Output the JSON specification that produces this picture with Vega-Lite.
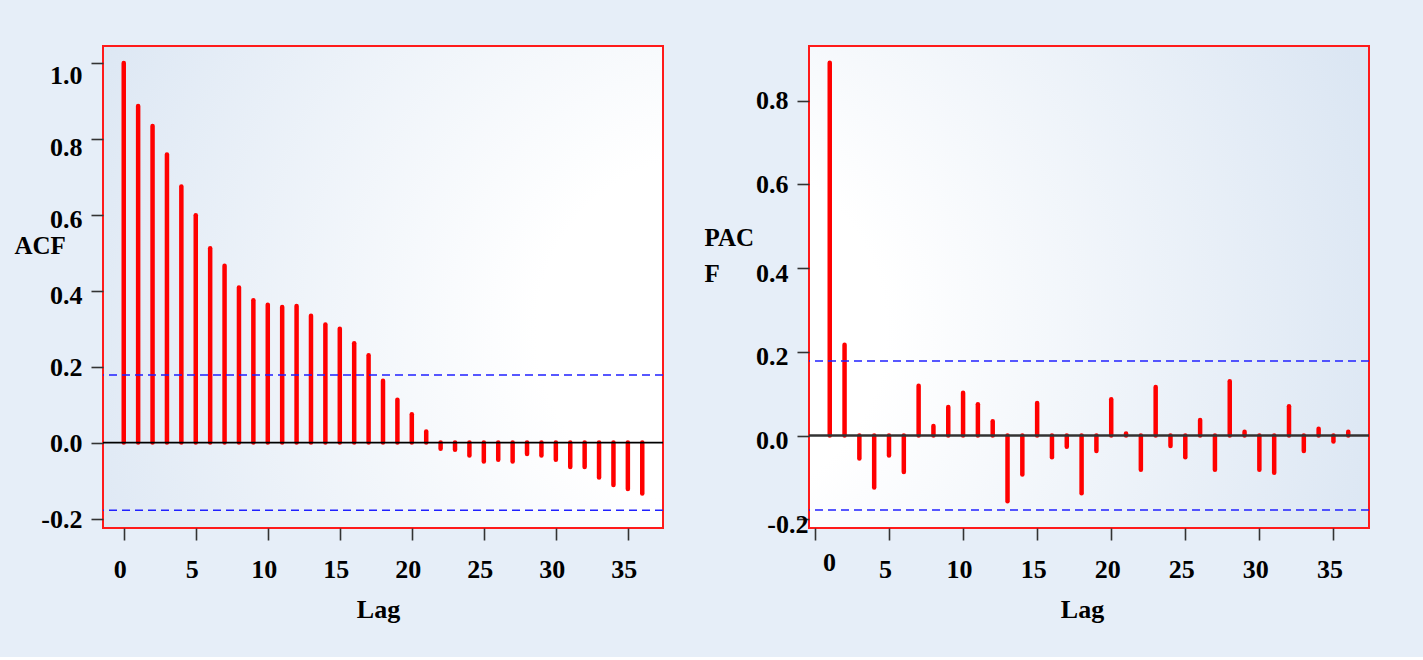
{
  "$schema": "https://vega.github.io/schema/vega-lite/v6.json",
  "background": "#e6eef8",
  "padding": {"left": 13, "top": 45, "right": 58, "bottom": 34},
  "datasets": {
    "acf": [
      {"lag": 0, "acf": 1.0}, {"lag": 1, "acf": 0.887}, {"lag": 2, "acf": 0.834}, {"lag": 3, "acf": 0.759},
      {"lag": 4, "acf": 0.675}, {"lag": 5, "acf": 0.599}, {"lag": 6, "acf": 0.512}, {"lag": 7, "acf": 0.466},
      {"lag": 8, "acf": 0.409}, {"lag": 9, "acf": 0.375}, {"lag": 10, "acf": 0.363}, {"lag": 11, "acf": 0.357},
      {"lag": 12, "acf": 0.36}, {"lag": 13, "acf": 0.334}, {"lag": 14, "acf": 0.311}, {"lag": 15, "acf": 0.3},
      {"lag": 16, "acf": 0.262}, {"lag": 17, "acf": 0.23}, {"lag": 18, "acf": 0.163}, {"lag": 19, "acf": 0.113},
      {"lag": 20, "acf": 0.075}, {"lag": 21, "acf": 0.029}, {"lag": 22, "acf": -0.016}, {"lag": 23, "acf": -0.019},
      {"lag": 24, "acf": -0.034}, {"lag": 25, "acf": -0.05}, {"lag": 26, "acf": -0.045}, {"lag": 27, "acf": -0.05},
      {"lag": 28, "acf": -0.03}, {"lag": 29, "acf": -0.034}, {"lag": 30, "acf": -0.045}, {"lag": 31, "acf": -0.064},
      {"lag": 32, "acf": -0.064}, {"lag": 33, "acf": -0.092}, {"lag": 34, "acf": -0.112}, {"lag": 35, "acf": -0.122},
      {"lag": 36, "acf": -0.134}
    ],
    "pacf": [
      {"lag": 1, "pacf": 0.891}, {"lag": 2, "pacf": 0.217}, {"lag": 3, "pacf": -0.055}, {"lag": 4, "pacf": -0.124},
      {"lag": 5, "pacf": -0.048}, {"lag": 6, "pacf": -0.087}, {"lag": 7, "pacf": 0.119}, {"lag": 8, "pacf": 0.023},
      {"lag": 9, "pacf": 0.068}, {"lag": 10, "pacf": 0.102}, {"lag": 11, "pacf": 0.075}, {"lag": 12, "pacf": 0.034},
      {"lag": 13, "pacf": -0.157}, {"lag": 14, "pacf": -0.093}, {"lag": 15, "pacf": 0.078}, {"lag": 16, "pacf": -0.052},
      {"lag": 17, "pacf": -0.027}, {"lag": 18, "pacf": -0.138}, {"lag": 19, "pacf": -0.037}, {"lag": 20, "pacf": 0.087},
      {"lag": 21, "pacf": 0.005}, {"lag": 22, "pacf": -0.082}, {"lag": 23, "pacf": 0.116}, {"lag": 24, "pacf": -0.025},
      {"lag": 25, "pacf": -0.052}, {"lag": 26, "pacf": 0.037}, {"lag": 27, "pacf": -0.082}, {"lag": 28, "pacf": 0.13},
      {"lag": 29, "pacf": 0.009}, {"lag": 30, "pacf": -0.082}, {"lag": 31, "pacf": -0.089}, {"lag": 32, "pacf": 0.07},
      {"lag": 33, "pacf": -0.037}, {"lag": 34, "pacf": 0.016}, {"lag": 35, "pacf": -0.014}, {"lag": 36, "pacf": 0.009}
    ],
    "ci": [{"ci": 0.178}, {"ci": -0.178}]
  },
  "spacing": 38,
  "hconcat": [
    {
      "width": 560,
      "height": 482,
      "view": {
        "stroke": "#ff1a1a",
        "strokeWidth": 2,
        "fill": {"gradient": "radial", "x1": 1.087, "y1": 0.577, "r1": 0, "x2": 1.087, "y2": 0.577, "r2": 1.25,
          "stops": [{"offset": 0, "color": "#ffffff"}, {"offset": 0.25, "color": "#ffffff"}, {"offset": 1, "color": "#dbe6f3"}]}
      },
      "layer": [
        {
          "data": {"name": "acf"},
          "mark": {"type": "rule", "color": "#ff0000", "strokeWidth": 4.5, "strokeCap": "round"},
          "encoding": {
            "x": {"field": "lag", "type": "quantitative",
              "scale": {"domain": [-1.44, 37.44], "nice": false, "zero": false},
              "axis": {"values": [0, 5, 10, 15, 20, 25, 30, 35], "format": "d", "title": "Lag", "labelOffset": -4, "titleX": 275}},
            "y": {"field": "acf", "type": "quantitative",
              "scale": {"domain": [-0.225, 1.045], "nice": false, "zero": false},
              "axis": {"values": [-0.2, 0, 0.2, 0.4, 0.6, 0.8, 1.0],
                "labelExpr": "datum.value < 0 ? '-' + format(-datum.value, '.1f') : format(datum.value, '.1f')",
                "labelOffset": {"condition": [
                  {"test": "datum.value > 0.9", "value": 12},
                  {"test": "datum.value > 0.7", "value": 9},
                  {"test": "datum.value > 0.3", "value": 5}
                ], "value": 1},
                "title": "ACF", "titleAngle": 0, "titleAlign": "left", "titleBaseline": "alphabetic",
                "titleX": -89, "titleY": 207}},
            "y2": {"datum": 0}
          }
        },
        {
          "data": {"values": [{}]},
          "mark": {"type": "rule", "color": "#000000", "strokeWidth": 1.6},
          "encoding": {"y": {"datum": 0}}
        },
        {
          "data": {"name": "ci"},
          "mark": {"type": "rule", "color": "#2020ff", "strokeWidth": 1.5, "strokeDash": [8, 5]},
          "encoding": {"y": {"field": "ci", "type": "quantitative"}}
        }
      ]
    },
    {
      "width": 560,
      "height": 482,
      "view": {
        "stroke": "#ff1a1a",
        "strokeWidth": 2,
        "fill": {"gradient": "radial", "x1": -0.175, "y1": 0.577, "r1": 0, "x2": -0.175, "y2": 0.577, "r2": 1.25,
          "stops": [{"offset": 0, "color": "#ffffff"}, {"offset": 0.25, "color": "#ffffff"}, {"offset": 1, "color": "#dbe6f3"}]}
      },
      "layer": [
        {
          "data": {"name": "pacf"},
          "mark": {"type": "rule", "color": "#ff0000", "strokeWidth": 4.5, "strokeCap": "round"},
          "encoding": {
            "x": {"field": "lag", "type": "quantitative",
              "scale": {"domain": [-0.4, 37.4], "nice": false, "zero": false},
              "axis": {"values": [0, 5, 10, 15, 20, 25, 30, 35], "format": "d", "title": "Lag", "titleX": 273,
                "labelOffset": {"condition": {"test": "datum.value === 0", "value": 14}, "value": -4},
                "labelPadding": {"condition": {"test": "datum.value === 0", "value": 9}, "value": 16}}},
            "y": {"field": "pacf", "type": "quantitative",
              "scale": {"domain": [-0.221, 0.931], "nice": false, "zero": false},
              "axis": {"values": [-0.2, 0, 0.2, 0.4, 0.6, 0.8],
                "labelExpr": "datum.value < 0 ? '-' + format(-datum.value, '.1f') : format(datum.value, '.1f')",
                "labelOffset": {"condition": {"test": "datum.value > 0.5", "value": 0}, "value": 5},
                "labelPadding": {"condition": {"test": "datum.value < -0.1", "value": -11}, "value": 9},
                "title": ["PAC", "F"], "titleAngle": 0, "titleAlign": "left", "titleBaseline": "alphabetic",
                "titleX": -105, "titleY": 199, "titleLineHeight": 36}},
            "y2": {"datum": 0}
          }
        },
        {
          "data": {"values": [{}]},
          "mark": {"type": "rule", "color": "#333333", "strokeWidth": 2.5},
          "encoding": {"y": {"datum": 0}}
        },
        {
          "data": {"name": "ci"},
          "mark": {"type": "rule", "color": "#2020ff", "strokeWidth": 1.5, "strokeDash": [8, 5]},
          "encoding": {"y": {"field": "ci", "type": "quantitative"}}
        }
      ]
    }
  ],
  "config": {
    "font": "Liberation Serif",
    "axis": {
      "grid": false,
      "domain": false,
      "ticks": true,
      "tickSize": 12,
      "tickWidth": 1.6,
      "tickColor": "#333333",
      "labelFont": "Liberation Serif",
      "labelFontWeight": "bold",
      "labelFontSize": 26,
      "labelColor": "#000000",
      "titleFont": "Liberation Serif",
      "titleFontWeight": "bold",
      "titleFontSize": 25,
      "titleColor": "#000000"
    },
    "axisX": {"labelPadding": 16, "titlePadding": 14, "labelFlush": false, "labelOverlap": false, "titleFontSize": 26},
    "axisY": {"labelPadding": 9, "labelFlush": false, "labelOverlap": false}
  }
}
